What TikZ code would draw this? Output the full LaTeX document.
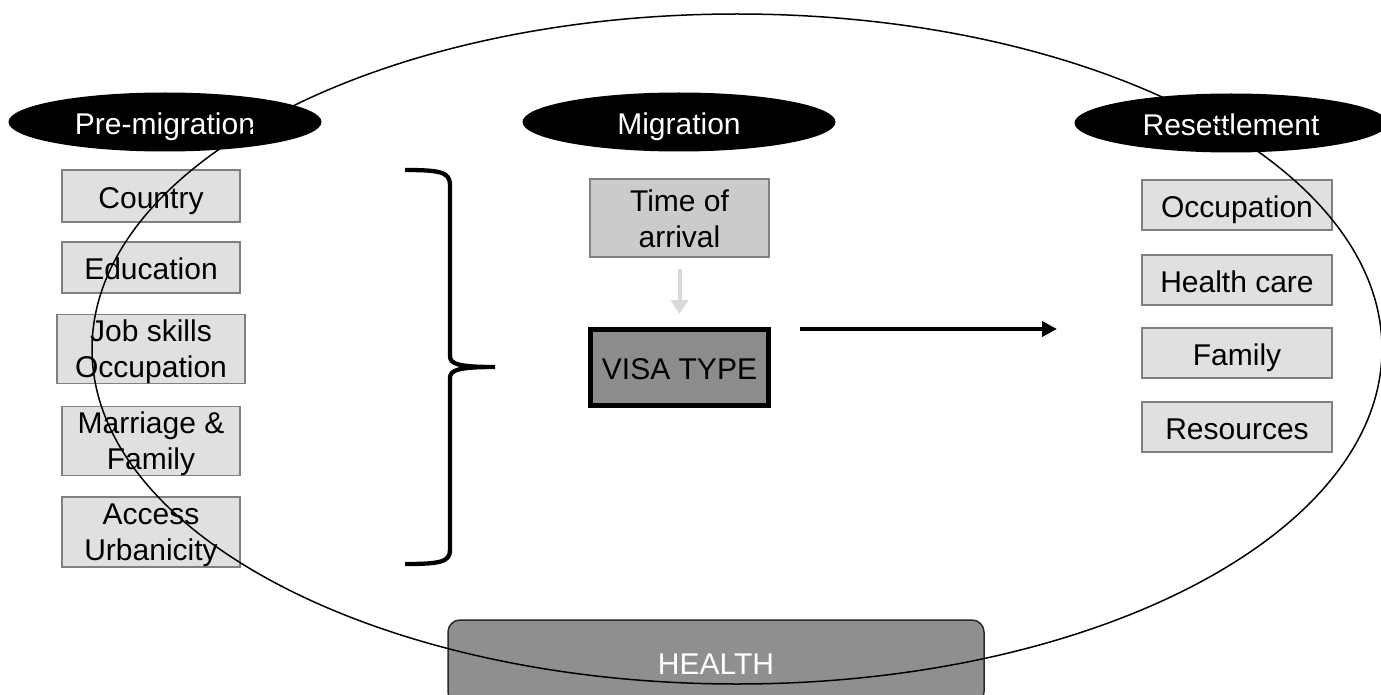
\documentclass[tikz,border=0pt]{standalone}
\usepackage{fontspec}
\setmainfont{Liberation Sans}
\usetikzlibrary{shapes.geometric,arrows.meta}
\definecolor{boxfill}{HTML}{E0E0E0}
\definecolor{boxline}{HTML}{808080}
\definecolor{toafill}{HTML}{CBCBCB}
\definecolor{visafill}{HTML}{8C8C8C}
\definecolor{healthfill}{HTML}{8F8F8F}
\definecolor{healthline}{HTML}{2B2B2B}
\definecolor{softarrow}{HTML}{D9D9D9}
\newcommand{\mytopstrut}{\rule{0pt}{27pt}}
\newcommand{\mybotstrut}{\rule[-4.5pt]{0pt}{4.5pt}}
\begin{document}
\begin{tikzpicture}[x=1pt,y=-1pt,
  every node/.style={font=\fontsize{30}{36}\selectfont, inner sep=0pt, align=center},
  oneline/.style={text height=31pt, text depth=6.4pt},
  header/.style={oneline, ellipse, fill=black, text=white, minimum width=313pt, minimum height=59pt},
  factor/.style={rectangle, fill=boxfill, draw=boxline, line width=1.6pt, minimum width=178pt},
  rfactor/.style={oneline, factor, minimum width=190pt, minimum height=50pt},
  toabox/.style={rectangle, fill=toafill, draw=boxline, line width=1.6pt, minimum width=179pt, minimum height=78pt},
  visabox/.style={oneline, rectangle, fill=visafill, draw=black, line width=5pt, minimum width=178pt, minimum height=76pt},
  healthbox/.style={oneline, rectangle, rounded corners=12pt, fill=healthfill, draw=healthline, line width=1.5pt, text=white, minimum width=536pt, minimum height=84pt},
  softarrowline/.style={draw=softarrow, line width=4pt, -{Triangle[length=14pt,width=17pt]}},
  mainarrow/.style={draw=black, line width=4.3pt, -{Triangle[length=15pt,width=15pt]}},
  braceline/.style={draw=black, line width=4.3pt},
  bigring/.style={draw=black, line width=1.5pt}]
\clip (0,0) rectangle (1381,695);
\fill[white] (0,0) rectangle (1381,695);

% headers
\node[header] (pre) at (165,122) {Pre-migration};
\node[header] (mig) at (679,122) {Migration};
\node[header] (res) at (1231,123) {Resettlement};

% pre-migration factors
\node[factor, oneline, minimum height=52pt] (country) at (151,196) {Country};
\node[factor, oneline, minimum height=51pt] (educ) at (151,267.5) {Education};
\node[factor, minimum width=188pt, minimum height=68pt] (job) at (151,349) {\mytopstrut Job skills\\Occupation\mybotstrut};
\node[factor, minimum height=68pt] (marr) at (151,441) {\mytopstrut Marriage \&\\Family\mybotstrut};
\node[factor, minimum height=70pt] (access) at (151,532) {\mytopstrut Access\\Urbanicity\mybotstrut};

% migration
\node[toabox] (toa) at (679.5,218) {\mytopstrut Time of\\arrival\mybotstrut};
\node[visabox] (visa) at (679.5,367.5) {VISA TYPE};
\draw[softarrowline, shorten <=11pt, shorten >=13pt] (toa) -- (visa);

% resettlement factors
\node[rfactor] (occ) at (1237,205) {Occupation};
\node[rfactor] (hc) at (1237,280) {Health care};
\node[rfactor] (fam) at (1237,353) {Family};
\node[rfactor] (resrc) at (1237,427) {Resources};

% brace
\draw[braceline] (405,170) .. controls (440,170) and (450,172) .. (450,185)
  -- (450,356) .. controls (450,364) and (458,367) .. (495,367)
  .. controls (458,367) and (450,370) .. (450,378)
  -- (450,550) .. controls (450,562) and (440,564) .. (405,564);

% main arrow
\coordinate (arrS) at (800,329);
\coordinate (arrE) at (1057,329);
\draw[mainarrow] (arrS) -- (arrE);

% health
\node[healthbox] (health) at (716,662) {HEALTH};

% big ring on top
\draw[bigring] (737,349) ellipse [x radius=645, y radius=335];
\end{tikzpicture}
\end{document}
